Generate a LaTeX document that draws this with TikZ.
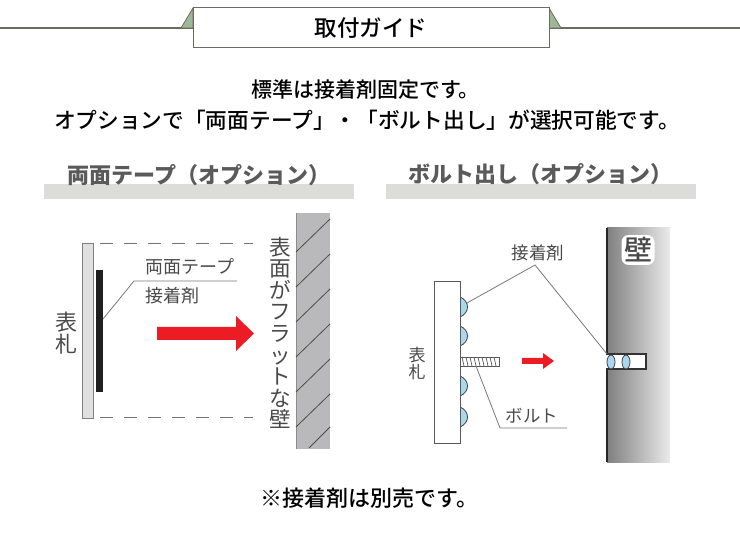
\documentclass[tikz,border=0pt]{standalone}
\usepackage{fontspec}
\setmainfont{Noto Sans CJK JP}
\newfontfamily\mediumfont{Noto Sans CJK JP Medium}
\definecolor{bandgray}{HTML}{DCDCDA}
\definecolor{framegray}{HTML}{6E6A60}
\definecolor{tabgreen}{HTML}{9DB896}
\definecolor{leadgray}{HTML}{777777}
\definecolor{labelgray}{HTML}{4A4A4A}
\definecolor{headgray}{HTML}{5A5A5A}
\definecolor{wallgray}{HTML}{B9B9BB}
\definecolor{arrowred}{HTML}{EC1C24}
\definecolor{gluefill}{HTML}{A9D8EE}
\tikzset{
	bodytext/.style={inner sep=0pt,text=black,font=\mediumfont\fontsize{#1}{25}\selectfont},
	headtext/.style={inner sep=0pt,text=headgray,font=\fontsize{22}{26}\selectfont\bfseries},
	smalltext/.style={inner sep=0pt,text=labelgray,font=\fontsize{#1}{20}\selectfont},
	uprighttext/.style={inner sep=0pt,text=labelgray,align=center,font=\fontsize{#1}{#1}\selectfont},
	leadline/.style={draw=leadgray,line width=0.8pt},
	band/.style={fill=bandgray,draw=none},
	gluedot/.style={draw=black!75,fill=gluefill,line width=0.8pt}
}
\begin{document}
\begin{tikzpicture}[x=1pt,y=-1pt]
	\useasboundingbox (0,0) rectangle (740,540);

	\draw[framegray,line width=1.2pt] (0,28) -- (740,28);
	\filldraw[draw=framegray,fill=tabgreen,line width=0.8pt] (193,8) -- (181,28) -- (193,28) -- cycle;
	\filldraw[draw=framegray,fill=tabgreen,line width=0.8pt] (549,8) -- (561,28) -- (549,28) -- cycle;
	\node[draw=framegray,fill=white,line width=1pt,minimum width=356pt,minimum height=40pt,inner sep=0pt,font=\mediumfont\fontsize{22.5}{26}\selectfont] (title) at (371,28) {取付ガイド};

	\node[bodytext=21] (intro) at (365.5,90) {標準は接着剤固定です。};
	\node[bodytext=21.7] (option) at (367,120) {オプションで「両面テープ」・「ボルト出し」が選択可能です。};

	\fill[band] (44,184) rectangle (354,199);
	\fill[band] (386,184) rectangle (696,199);
	\node[headtext] (tapehead) at (199,175) {両面テープ（オプション）};
	\node[headtext] (bolthead) at (540,174) {ボルト出し（オプション）};

	% left panel
	\filldraw[draw=gray,fill=black!12,line width=0.9pt] (82,243) rectangle (93,418);
	\fill[black!88] (96,270) rectangle (103,392);
	\coordinate (tapeend) at (103,319);
	\coordinate (tapebend) at (134,281);
	\coordinate (tapefree) at (237,281);
	\draw[leadline] (tapeend) -- (tapebend) -- (tapefree);
	\draw[gray!90!black,line width=1pt,dash pattern=on 13pt off 11pt] (100,243.5) -- (253,243.5);
	\draw[gray!90!black,line width=1pt,dash pattern=on 13pt off 11pt] (100,418) -- (253,418);
	\node[smalltext=18,anchor=west] (tapelabel) at (145,267) {両面テープ};
	\node[smalltext=18,anchor=west] (gluelabel) at (145,296) {接着剤};
	\node[uprighttext=22] (plateleft) at (66,333) {表\\札};
	\fill[arrowred] (157,327) -- (236,327) -- (236,316) -- (254,333.5) -- (236,351) -- (236,340) -- (157,340) -- cycle;
	\fill[wallgray] (296,213) rectangle (330,449);
	\draw[black!45,line width=0.6pt] (296,213) -- (296,449);
	\foreach \y in {252,287,322,357,392,427}
		\draw[black!70,line width=0.8pt] (296,\y) -- (330,\y-33);
	\draw[black!70,line width=0.8pt] (309,448) -- (330,427);
	\node[uprighttext=21.6] (flatwall) at (280,333) {表\\面\\が\\フ\\ラ\\ッ\\ト\\な\\壁};

	% right panel
	\shade[left color=black!50,right color=black!8] (607,228) rectangle (670,462);
	\draw[black!85,line width=1.5pt] (607,228) -- (607,462);
	\filldraw[draw=black!80,fill=white,line width=1.2pt] (607,354) -- (646,354) -- (646,369) -- (607,369);
	\fill[white] (606,355) rectangle (609,368);
	\draw[gluedot] (611,362) circle [x radius=4,y radius=7];
	\draw[gluedot] (626,362) circle [x radius=4,y radius=7];
	\foreach \y in {307,336,386,417}
		\filldraw[gluedot] (460,\y-10) .. controls (470,\y-6) and (470,\y+6) .. (460,\y+10) -- cycle;
	\filldraw[draw=black!65,fill=white,line width=0.9pt] (434,281) rectangle (460,443);
	\filldraw[draw=black!65,fill=white,line width=0.8pt] (460,357) rectangle (499,366);
	\foreach \x in {462,466,...,494}
		\draw[black!65,line width=0.7pt] (\x,357) -- (\x+2,366);
	\coordinate (domeend) at (467,303);
	\coordinate (gluebend) at (535,265);
	\coordinate (slotend) at (607,354);
	\draw[leadline] (domeend) -- (gluebend) -- (slotend);
	\coordinate (boltend) at (476,366);
	\coordinate (boltbend) at (500,428);
	\coordinate (boltfree) at (567,428);
	\draw[leadline] (boltend) -- (boltbend) -- (boltfree);
	\node[smalltext=17.5] (gluetop) at (538,253) {接着剤};
	\node[smalltext=17.5] (boltlabel) at (532,416) {ボルト};
	\node[uprighttext=17] (plateright) at (417,364) {表\\札};
	\fill[arrowred] (522,358) -- (543,358) -- (543,353) -- (554,361) -- (543,369) -- (543,364) -- (522,364) -- cycle;
	\node[fill=white,rounded corners=7pt,inner sep=2.5pt,text=labelgray,font=\mediumfont\fontsize{28}{30}\selectfont] (wallname) at (638,250) {壁};

	\node[bodytext=22] (note) at (369.5,498) {※接着剤は別売です。};
\end{tikzpicture}
\end{document}
